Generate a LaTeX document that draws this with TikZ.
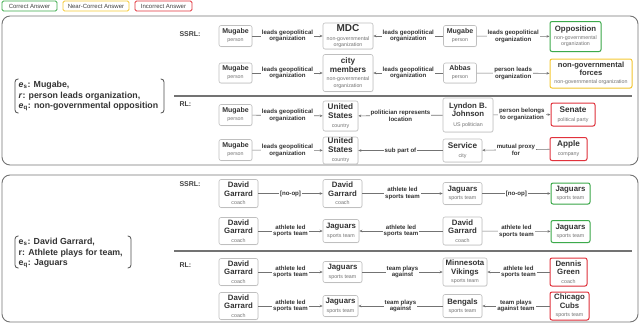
\documentclass[tikz,border=0pt]{standalone}
\usepackage{fontspec}
\setmainfont{Liberation Sans}
\usetikzlibrary{arrows.meta,shadows}
\definecolor{cgreen}{RGB}{60,170,75}
\definecolor{cyellow}{RGB}{245,200,50}
\definecolor{cred}{RGB}{225,50,60}
\newcommand\nmf{\fontsize{7.8}{8.4}\selectfont\bfseries}
\newcommand\smf{\fontsize{7}{8}\selectfont\bfseries}
\newcommand\bgf{\fontsize{10}{11}\selectfont\bfseries}
\newcommand\subf{\fontsize{5.3}{6}\selectfont\mdseries\color{black!55}}
\newcommand\lblf{\fontsize{6.1}{6.8}\selectfont\bfseries}
\newcommand\leftf{\fontsize{8.8}{10.3}\selectfont\bfseries}
\newcommand\legf{\fontsize{6}{7}\selectfont}
\begin{document}
\begin{tikzpicture}[x=1pt,y=-1pt,
 ent/.style={draw=black!25, line width=0.6pt, rounded corners=2pt, fill=white, align=center, inner sep=0.5pt, font=\nmf, text=black!80,
   drop shadow={shadow xshift=0.4pt, shadow yshift=-0.6pt, opacity=0.2}},
 good/.style={ent, draw=cgreen, line width=1pt},
 near/.style={ent, draw=cyellow, line width=1pt},
 bad/.style={ent, draw=cred, line width=1pt},
 sz/.style 2 args={minimum width=#1pt, minimum height=#2pt},
 edge/.style={draw=black!55, line width=0.6pt, -{Stealth[length=3pt,width=2.6pt]}},
 lbl/.style={fill=white, inner sep=1pt, align=center, font=\lblf, text=black!80},
 panel/.style={draw=black!55, line width=0.9pt, rounded corners=8pt},
 sep/.style={draw=black!55, line width=1.2pt},
 paren/.style={draw=black!70, line width=0.8pt, rounded corners=3pt},
 sec/.style={anchor=west, font=\fontsize{7}{8}\selectfont\bfseries, text=black!75},
 legend/.style={rounded corners=1.5pt, line width=0.8pt, font=\legf, text=black!75, inner sep=0pt, minimum height=10pt}
]
\useasboundingbox (0,0) rectangle (640,324);

% legend
\node[legend, draw=cgreen, minimum width=55pt] (lg1) at (29.5,6) {Correct Answer};
\node[legend, draw=cyellow, minimum width=66pt] (lg2) at (96,6) {Near-Correct Answer};
\node[legend, draw=cred, minimum width=57pt] (lg3) at (163.5,6) {Incorrect Answer};

% panels
\draw[panel] (2,16) rectangle (638,165);
\draw[panel] (2,175) rectangle (638,322);
\draw[sep] (174,96) -- (632,96);
\draw[sep] (174,251) -- (632,251);

% left queries
\node[anchor=west, align=left, font=\leftf, text=black!80, inner sep=0pt] (q1) at (18.5,96)
 {\textit{e}\textsubscript{s}: Mugabe,\\\textit{r}: person leads organization,\\\textit{e}\textsubscript{q}: non-governmental opposition};
\draw[paren] (18.5,79) -- (15,79) -- (15,113) -- (18.5,113);
\draw[paren] (160.5,79) -- (164,79) -- (164,113) -- (160.5,113);

\node[anchor=west, align=left, font=\leftf, text=black!80, inner sep=0pt] (q2) at (18.5,253)
 {e\textsubscript{s}: David Garrard,\\r: Athlete plays for team,\\e\textsubscript{q}: Jaguars};
\draw[paren] (18.5,236) -- (15,236) -- (15,268) -- (18.5,268);
\draw[paren] (127.5,236) -- (131,236) -- (131,268) -- (127.5,268);

% section labels
\node[sec] (s1) at (176,34) {SSRL:};
\node[sec] (r1) at (176,104) {RL:};
\node[sec] (s2) at (176,184) {SSRL:};
\node[sec] (r2) at (176,265) {RL:};

% ===== top SSRL row 1
\node[ent, sz={33}{21}, font=\smf] (m1) at (235.5,36) {Mugabe\\\subf person};
\node[ent, sz={50}{26}, font=\bgf] (mdc) at (348,36) {MDC\\[-2pt]\subf non-governmental\\[-4.6pt]\subf organization};
\node[ent, sz={33}{21}, font=\smf] (m2) at (460,36) {Mugabe\\\subf person};
\node[good, sz={51}{30}] (opp) at (575.5,36.5) {Opposition\\[-0.5pt]\subf non-governmental\\[-2pt]\subf organization};
\draw[edge] (m1) -- node[lbl]{leads geopolitical\\organization} (mdc);
\draw[edge] (m2) -- node[lbl]{leads geopolitical\\organization} (mdc);
\draw[edge] (m2) -- node[lbl]{leads geopolitical\\organization} (opp);

% ===== top SSRL row 2
\node[ent, sz={50}{37}, font=\fontsize{8.2}{9}\selectfont\bfseries] (city) at (348,73) {city\\members\\[-0.5pt]\subf non-governmental\\[-2.5pt]\subf organization};
\node[ent, sz={33}{20}, font=\smf] (m3) at (235.5,73) {Mugabe\\\subf person};
\node[ent, sz={33}{20}, font=\smf] (abbas) at (460,73) {Abbas\\\subf person};
\node[near, sz={82}{29}, font=\fontsize{7.6}{8.4}\selectfont\bfseries] (ngf) at (591,73.5) {non-governmental\\forces\\[-0.5pt]\subf non-governmental organization};
\draw[edge] (m3) -- node[lbl]{leads geopolitical\\organization} (city);
\draw[edge] (abbas) -- node[lbl]{leads geopolitical\\organization} (city);
\draw[edge] (abbas) -- node[lbl]{person leads\\organization} (ngf);

% ===== top RL row 1
\node[ent, sz={33}{21}, font=\smf] (m4) at (235.5,115) {Mugabe\\\subf person};
\node[ent, sz={35}{30}, font=\fontsize{8.2}{9}\selectfont\bfseries] (us1) at (340.5,116) {United\\States\\\subf country};
\node[ent, sz={50}{34}] (lbj) at (468,115) {Lyndon B.\\Johnson\\[1pt]\subf US politician};
\node[bad, sz={44}{23}, font=\fontsize{8.2}{9}\selectfont\bfseries] (senate) at (573,114.5) {Senate\\\subf political party};
\draw[edge] (m4) -- node[lbl]{leads geopolitical\\organization} (us1);
\draw[edge] (lbj) -- node[lbl]{politician represents\\location} (us1);
\draw[edge] (lbj) -- node[lbl]{person belongs\\to organization} (senate);

% ===== top RL row 2
\node[ent, sz={33}{21}, font=\smf] (m5) at (235.5,150) {Mugabe\\\subf person};
\node[ent, sz={35}{27}, font=\fontsize{8.2}{9}\selectfont\bfseries] (us2) at (340.5,150.5) {United\\States\\\subf country};
\node[ent, sz={39}{23}, font=\fontsize{8.2}{9}\selectfont\bfseries] (service) at (462.5,150.5) {Service\\\subf city};
\node[bad, sz={37}{23}, font=\fontsize{8.2}{9}\selectfont\bfseries] (apple) at (568.5,149) {Apple\\\subf company};
\draw[edge] (m5) -- node[lbl]{leads geopolitical\\organization} (us2);
\draw[edge] (service) -- node[lbl]{sub part of} (us2);
\draw[edge] (apple) -- node[lbl]{mutual proxy\\for} (service);

% ===== bottom SSRL row 1
\node[ent, sz={39}{28}] (dg1) at (238.5,193.5) {David\\Garrard\\\subf coach};
\node[ent, sz={39}{28}] (dg2) at (342.5,193.5) {David\\Garrard\\\subf coach};
\node[ent, sz={39}{22}] (jag1) at (462.5,193.5) {Jaguars\\\subf sports team};
\node[good, sz={39}{21}] (jag1g) at (570.5,193.5) {Jaguars\\\subf sports team};
\draw[edge] (dg1) -- node[lbl]{[no-op]} (dg2);
\draw[edge] (dg2) -- node[lbl]{athlete led\\sports team} (jag1);
\draw[edge] (jag1) -- node[lbl]{[no-op]} (jag1g);

% ===== bottom SSRL row 2
\node[ent, sz={39}{27}] (dg3) at (238.5,231) {David\\Garrard\\\subf coach};
\node[ent, sz={36}{23}] (jag2) at (341,231) {Jaguars\\\subf sports team};
\node[ent, sz={39}{28}] (dg4) at (462.5,231) {David\\Garrard\\\subf coach};
\node[good, sz={39}{22}] (jag2g) at (570.5,231.5) {Jaguars\\\subf sports team};
\draw[edge] (dg3) -- node[lbl]{athlete led\\sports team} (jag2);
\draw[edge] (dg4) -- node[lbl]{athlete led\\sports team} (jag2);
\draw[edge] (dg4) -- node[lbl]{athlete led\\sports team} (jag2g);

% ===== bottom RL row 1
\node[ent, sz={39}{27}] (dg5) at (238.5,272) {David\\Garrard\\\subf coach};
\node[ent, sz={39}{21}] (jag3) at (342.5,272) {Jaguars\\\subf sports team};
\node[ent, sz={44}{28}] (vik) at (465,272) {Minnesota\\Vikings\\\subf sports team};
\node[bad, sz={37}{28}] (dennis) at (568.5,272) {Dennis\\Green\\\subf coach};
\draw[edge] (dg5) -- node[lbl]{athlete led\\sports team} (jag3);
\draw[edge] (jag3) -- node[lbl]{team plays\\against} (vik);
\draw[edge] (dennis) -- node[lbl]{athlete led\\sports team} (vik);

% ===== bottom RL row 2
\node[ent, sz={39}{27}] (dg6) at (238.5,306) {David\\Garrard\\\subf coach};
\node[ent, sz={35}{21}] (jag4) at (340.5,306) {Jaguars\\\subf sports team};
\node[ent, sz={39}{23}] (bengals) at (462.5,306) {Bengals\\\subf sports team};
\node[bad, sz={39}{28}] (cubs) at (569.5,306) {Chicago\\Cubs\\\subf sports team};
\draw[edge] (dg6) -- node[lbl]{athlete led\\sports team} (jag4);
\draw[edge] (bengals) -- node[lbl]{team plays\\against} (jag4);
\draw[edge] (cubs) -- node[lbl]{team plays\\against team} (bengals);
\end{tikzpicture}
\end{document}
